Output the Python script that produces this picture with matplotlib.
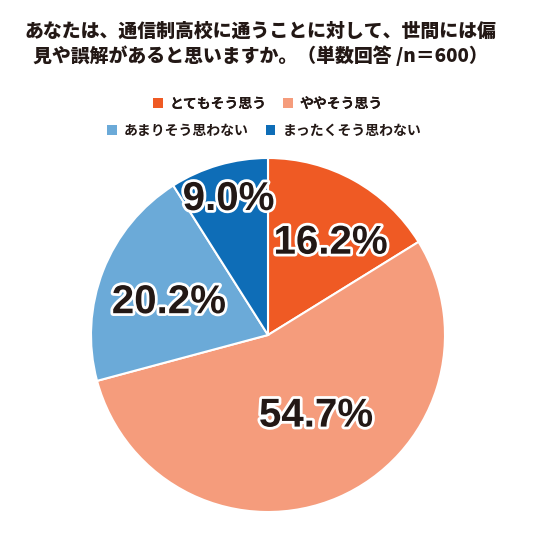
import numpy as np
import matplotlib.pyplot as plt
import matplotlib.patheffects as pe

plt.rcParams['font.family'] = ['Noto Sans CJK JP', 'DejaVu Sans']

title = 'あなたは、通信制高校に通うことに対して、世間には偏\n見や誤解があると思いますか。（単数回答 /n＝600）'
labels = ['とてもそう思う', 'ややそう思う', 'あまりそう思わない', 'まったくそう思わない']
values = [16.2, 54.7, 20.2, 9.0]
colors = ['#EF5A24', '#F59C7C', '#6BAAD8', '#0E6DB7']
text_color = '#231815'

fig = plt.figure(figsize=(5.36, 5.36), dpi=100)
cx, cy, rad = 268, 335, 177
ax = fig.add_axes([(cx - rad) / 536, 1 - (cy + rad) / 536, 2 * rad / 536, 2 * rad / 536])

wedges, texts = ax.pie(values, colors=colors, startangle=90, counterclock=False,
                       wedgeprops={'edgecolor': 'white', 'linewidth': 1.5})
ax.set_xlim(-1, 1)
ax.set_ylim(-1, 1)
ax.set_aspect('equal')

# label placement: radius fraction and angle nudge (deg) per slice
label_r = [0.63, 0.53, 0.59, 0.80]
label_da = [-5, 7.4, 3, 0]
for v, w, r, da in zip(values, wedges, label_r, label_da):
    mid = np.deg2rad((w.theta1 + w.theta2) / 2 + da)
    ax.text(r * np.cos(mid), r * np.sin(mid), f'{v:.1f}%', ha='center', va='center',
            fontsize=29, fontweight='bold', family=['Liberation Sans', 'DejaVu Sans'],
            color=text_color,
            path_effects=[pe.withStroke(linewidth=4, foreground='white')])

fig.text(0.486, 1 - 44 / 536, title, ha='center', va='center', fontsize=13.6,
         fontweight='heavy', color=text_color, linespacing=1.3)

leg_kw = dict(loc='center', ncol=2, frameon=False, handlelength=0.7, handleheight=0.7,
              handletextpad=0.5, columnspacing=1.2, prop={'weight': 'bold', 'size': 10})
leg1 = fig.legend(wedges[:2], labels[:2], bbox_to_anchor=(0.5, 1 - 104 / 536), **leg_kw)
leg2 = fig.legend(wedges[2:], labels[2:], bbox_to_anchor=(0.493, 1 - 131 / 536), **leg_kw)
for leg in (leg1, leg2):
    for t in leg.get_texts():
        t.set_color(text_color)
    for h in leg.legend_handles:
        h.set_edgecolor('none')
fig.add_artist(leg1)

fig.savefig('out.png', dpi=100, facecolor='white')
